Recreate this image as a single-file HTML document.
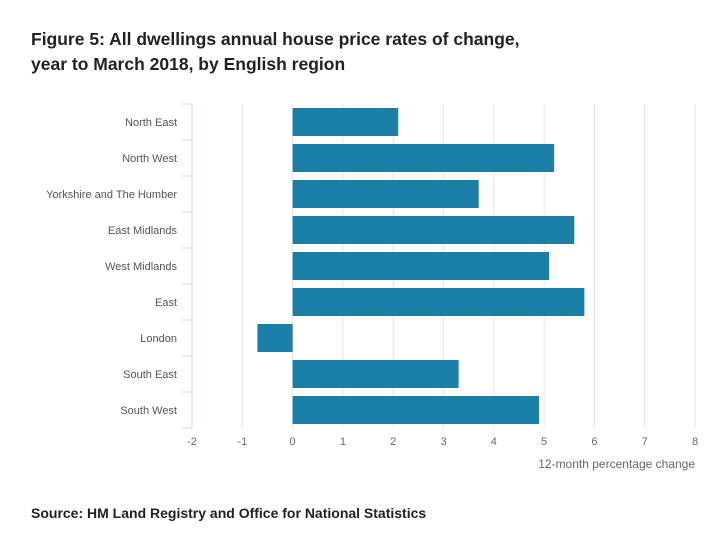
<!DOCTYPE html>
<html><head><meta charset="utf-8"><style>
body{margin:0;background:#fff;width:727px;height:538px;overflow:hidden;font-family:"Liberation Sans",sans-serif}
.t{position:absolute;left:31px;top:27px;font-size:17.5px;font-weight:bold;color:#222;line-height:25px}
.s{position:absolute;left:31px;top:505px;font-size:14px;font-weight:bold;color:#222}
</style></head><body>
<div class="t">Figure 5: All dwellings annual house price rates of change,<br>year to March 2018, by English region</div>
<svg id="c" width="727" height="538" style="position:absolute;left:0;top:0"></svg>
<div class="s">Source: HM Land Registry and Office for National Statistics</div>
<script>
const categories=["North East","North West","Yorkshire and The Humber","East Midlands","West Midlands","East","London","South East","South West"];
const values=[2.1,5.2,3.7,5.6,5.1,5.8,-0.7,3.3,4.9];
const ticks=[-2,-1,0,1,2,3,4,5,6,7,8];
const NS="http://www.w3.org/2000/svg",svg=document.getElementById('c');
const x0=192,x1=695,vmin=-2,vmax=8,yTop=104,yBot=428;
const x=v=>x0+(v-vmin)/(vmax-vmin)*(x1-x0);
const band=(yBot-yTop)/categories.length;
const y=i=>yTop+i*band;
function el(t,a){const e=document.createElementNS(NS,t);for(const k in a)e.setAttribute(k,a[k]);svg.appendChild(e);return e;}
ticks.forEach(t=>{
 if(t>vmin){const g=el('line',{x1:x(t),x2:x(t),y1:yTop,y2:yBot,stroke:'#e6e6e6'});
 
 }
 const l=el('text',{x:x(t),y:445,'text-anchor':'middle','font-size':11,fill:'#666'});l.textContent=t;
 
 
});
const ax=el('line',{x1:x0,x2:x0,y1:yTop,y2:yBot,stroke:'#ccd6eb'});


for(let i=0;i<=categories.length;i++){el('line',{x1:x0-10,x2:x0,y1:y(i),y2:y(i),stroke:'#ccd6eb'});}
categories.forEach((c,i)=>{
 const v=values[i],cy=y(i)+band/2,h=28;
 const r=el('rect',{x:Math.min(x(0),x(v)),y:cy-h/2,width:Math.abs(x(v)-x(0)),height:h,fill:'#1b7fa8'});
 
 
 const l=el('text',{x:177,y:cy+4,'text-anchor':'end','font-size':11,fill:'#555'});l.textContent=c;
 
 
});
const at=el('text',{x:695,y:468,'text-anchor':'end','font-size':12,fill:'#666'});at.textContent='12-month percentage change';


</script>
</body></html>
